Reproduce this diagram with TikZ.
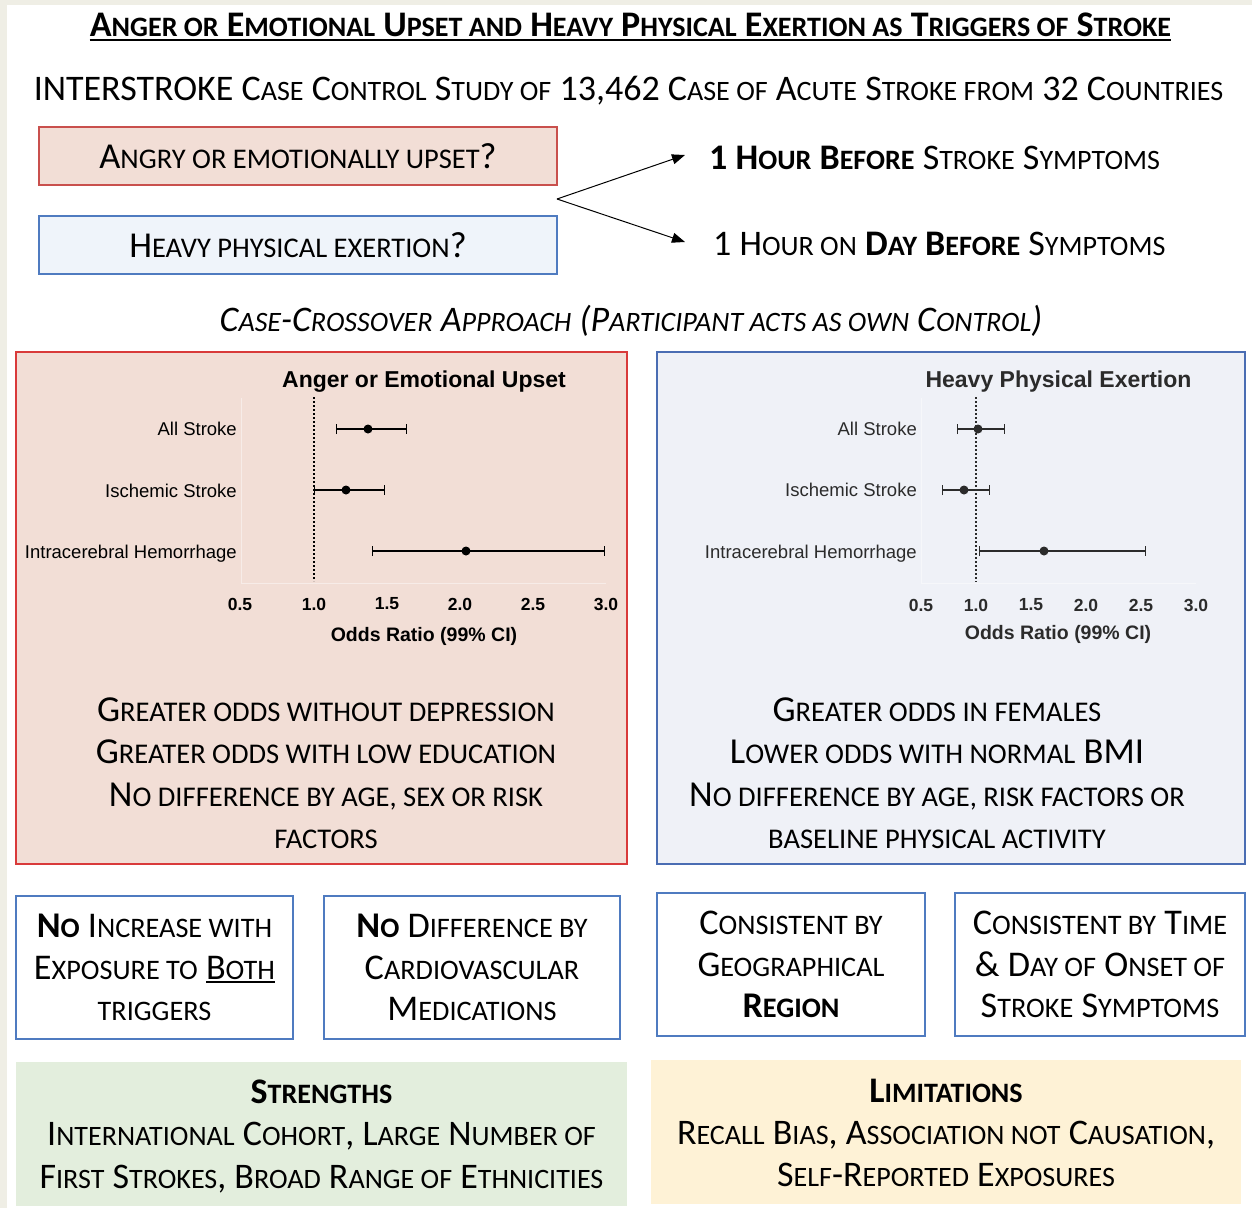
\documentclass[tikz,border=0pt]{standalone}
\usepackage{fontspec}
\setmainfont{Carlito}
\newfontfamily\chartfont{Liberation Sans}
\usetikzlibrary{arrows.meta}
\makeatletter
\newcommand\s[1]{{\fontsize{\fpeval{0.78*\f@size}}{\f@baselineskip}\selectfont #1}}
\makeatother
\newcommand\myul[1]{\setbox0\hbox{#1}\rlap{\rule[-4pt]{\wd0}{2pt}}\box0}
\definecolor{bgbeige}{HTML}{EFEEE5}
\definecolor{boxred}{HTML}{C9504D}
\definecolor{panelred}{HTML}{D93A3A}
\definecolor{redfill}{HTML}{F2DED6}
\definecolor{boxblue}{HTML}{4F7BC0}
\definecolor{panelblue}{HTML}{4A6DB3}
\definecolor{bluefill}{HTML}{EFF4FA}
\definecolor{panelbluefill}{HTML}{EFF1F7}
\definecolor{greenfill}{HTML}{E3EEDD}
\definecolor{yellowfill}{HTML}{FEF2D6}
\definecolor{chartgrey}{HTML}{2B2B2B}
\tikzset{
  txt/.style={inner sep=0pt, align=center},
  qbox/.style={draw, line width=1.3pt, minimum height=58pt, minimum width=518pt, inner sep=0pt},
  panel/.style={draw, line width=1.8pt, minimum width=#1, minimum height=512pt, inner sep=0pt},
  wbox/.style={draw=boxblue, line width=1.3pt, fill=white, minimum height=143pt, inner sep=0pt},
  sbox/.style={minimum height=144pt, inner sep=0pt},
  clabel/.style={inner sep=0pt, anchor=base east, font=\chartfont\fontsize{18.5}{20}\selectfont},
  ctick/.style={inner sep=0pt, font=\chartfont\bfseries\fontsize{17.5}{20}\selectfont},
  ctitle/.style={inner sep=0pt, font=\chartfont\bfseries\fontsize{23}{26}\selectfont},
  caxis/.style={inner sep=0pt, font=\chartfont\bfseries\fontsize{19.5}{22}\selectfont},
  ebar/.style={line width=1.3pt, {Bar[width=10pt,line width=1.3pt]}-{Bar[width=10pt,line width=1.3pt]}},
  refline/.style={line width=1.9pt, dash pattern=on 2pt off 2pt},
  faint/.style={white, opacity=0.45, line width=0.8pt},
  arr/.style={line width=1pt, -{Triangle[length=13pt,width=10pt]}},
}
\begin{document}
\begin{tikzpicture}[x=1pt,y=-1pt]
\useasboundingbox (0,0) rectangle (1252,1208);
\fill[bgbeige] (0,0) rectangle (1252,1208);
\fill[white] (7,5) rectangle (1252,1208);

% title
\node[txt, anchor=base, font=\bfseries\fontsize{36}{40}\selectfont] (title) at (630.5,36)
  {A\s{NGER OR} E\s{MOTIONAL} U\s{PSET AND} H\s{EAVY} P\s{HYSICAL} E\s{XERTION AS} T\s{RIGGERS OF} S\s{TROKE}};
\draw[line width=2pt] ([yshift=-3.5pt]title.base west) -- ([yshift=-3.5pt]title.base east);

\node[txt, anchor=base, font=\fontsize{36}{40}\selectfont] (study) at (628.5,100.5)
  {INTERSTROKE C\s{ASE} C\s{ONTROL} S\s{TUDY OF} 13,462 C\s{ASE OF} A\s{CUTE} S\s{TROKE FROM} 32 C\s{OUNTRIES}};

% question boxes
\node[qbox, draw=boxred, fill=redfill, font=\fontsize{36.5}{40}\selectfont] (angry) at (298,156)
  {A\s{NGRY OR EMOTIONALLY UPSET}?};
\node[qbox, draw=boxblue, fill=bluefill, font=\fontsize{36.5}{40}\selectfont] (heavy) at (298,245)
  {H\s{EAVY PHYSICAL EXERTION}?};

% time windows
\node[txt, anchor=west, font=\fontsize{36}{40}\selectfont] (hour1) at (709,158)
  {\textbf{1 H\s{OUR} B\s{EFORE}} S\s{TROKE} S\s{YMPTOMS}};
\node[txt, anchor=west, font=\fontsize{36}{40}\selectfont] (hour2) at (713,244)
  {1 H\s{OUR ON} \textbf{D\s{AY} B\s{EFORE}} S\s{YMPTOMS}};
\coordinate (fork) at (557,199);
\coordinate (tip1) at (685,155);
\coordinate (tip2) at (685,242);
\draw[arr] (fork) -- (tip1);
\draw[arr] (fork) -- (tip2);

\node[txt, font=\itshape\fontsize{36}{40}\selectfont] (approach) at (631,321)
  {C\s{ASE}-C\s{ROSSOVER} A\s{PPROACH} (P\s{ARTICIPANT ACTS AS OWN} C\s{ONTROL})};

% panels
\node[panel=611pt, draw=panelred, fill=redfill] (lpanel) at (321.5,608) {};
\node[panel=588pt, draw=panelblue, fill=panelbluefill] (rpanel) at (951,608) {};

% left chart
\draw[faint] (241,398) -- (241,583) -- (606,583);
\draw[refline] (314,397) -- (314,581);
\node[ctitle] (ltitle) at (424,382) {Anger or Emotional Upset};
\node[clabel] (la) at (237,435.6) {All Stroke};
\node[clabel] (lb) at (237,497.6) {Ischemic Stroke};
\node[clabel] (lc) at (237,558.6) {Intracerebral Hemorrhage};
\draw[ebar] (336,429) -- (407,429); \fill (368,429) circle (4.5pt);
\draw[ebar] (314,490) -- (385,490); \fill (346,490) circle (4.5pt);
\draw[ebar] (372,551) -- (605,551); \fill (466,551) circle (4.5pt);
\node[ctick] (lt1) at (240,604) {0.5};
\node[ctick] (lt2) at (314,604) {1.0};
\node[ctick] (lt3) at (387,604) {1.5};
\node[ctick] (lt4) at (460,604) {2.0};
\node[ctick] (lt5) at (533,604) {2.5};
\node[ctick] (lt6) at (606,604) {3.0};
\node[caxis] (laxis) at (424,636) {Odds Ratio (99\% CI)};

% right chart
\draw[faint] (921,398) -- (921,583) -- (1196,583);
\draw[refline, chartgrey] (976,397) -- (976,582);
\node[ctitle, text=chartgrey] (rtitle) at (1058.5,382) {Heavy Physical Exertion};
\node[clabel, text=chartgrey] (ra) at (917,435.6) {All Stroke};
\node[clabel, text=chartgrey] (rb) at (917,496.6) {Ischemic Stroke};
\node[clabel, text=chartgrey] (rc) at (917,558.6) {Intracerebral Hemorrhage};
\draw[ebar, chartgrey] (957,429) -- (1005,429); \fill[chartgrey] (978,429) circle (4.5pt);
\draw[ebar, chartgrey] (942,490) -- (990,490); \fill[chartgrey] (964,490) circle (4.5pt);
\draw[ebar, chartgrey] (979,551) -- (1146,551); \fill[chartgrey] (1044,551) circle (4.5pt);
\node[ctick, text=chartgrey] (rt1) at (921,605) {0.5};
\node[ctick, text=chartgrey] (rt2) at (976,605) {1.0};
\node[ctick, text=chartgrey] (rt3) at (1031,605) {1.5};
\node[ctick, text=chartgrey] (rt4) at (1086,605) {2.0};
\node[ctick, text=chartgrey] (rt5) at (1141,605) {2.5};
\node[ctick, text=chartgrey] (rt6) at (1196,605) {3.0};
\node[caxis, text=chartgrey] (raxis) at (1058,634) {Odds Ratio (99\% CI)};

% panel findings
\node[txt, font=\fontsize{36.6}{42.5}\selectfont] (lfind) at (326,773)
  {G\s{REATER ODDS WITHOUT DEPRESSION}\\
   G\s{REATER ODDS WITH LOW EDUCATION}\\
   N\s{O DIFFERENCE BY AGE, SEX OR RISK}\\
   \s{FACTORS}};
\node[txt, font=\fontsize{36.6}{42.5}\selectfont] (rfind) at (937,773)
  {G\s{REATER ODDS IN FEMALES}\\
   L\s{OWER ODDS WITH NORMAL} BMI\\
   N\s{O DIFFERENCE BY AGE, RISK FACTORS OR}\\
   \s{BASELINE PHYSICAL ACTIVITY}};

% bottom boxes
\node[wbox, minimum width=277pt, font=\fontsize{36.2}{41.8}\selectfont, align=center] (b1) at (154.5,967.5)
  {\textbf{N\s{O}} I\s{NCREASE WITH}\\ E\s{XPOSURE TO} \myul{B\s{OTH}}\\ \s{TRIGGERS}};
\node[wbox, minimum width=296pt, font=\fontsize{36.2}{41.8}\selectfont, align=center] (b2) at (472,967.5)
  {\textbf{N\s{O}} D\s{IFFERENCE BY}\\ C\s{ARDIOVASCULAR}\\ M\s{EDICATIONS}};
\node[wbox, minimum width=268pt, font=\fontsize{36.2}{41.8}\selectfont, align=center] (b3) at (791,964.5)
  {C\s{ONSISTENT BY}\\ G\s{EOGRAPHICAL}\\ \textbf{R\s{EGION}}};
\node[wbox, minimum width=290pt, font=\fontsize{36.2}{41.8}\selectfont, align=center] (b4) at (1100,964.5)
  {C\s{ONSISTENT BY} T\s{IME}\\ \& D\s{AY OF} O\s{NSET OF}\\ S\s{TROKE} S\s{YMPTOMS}};

\node[sbox, fill=greenfill, minimum width=611pt] (strength) at (321.5,1134) {};
\node[txt, font=\fontsize{36}{42.5}\selectfont] (strengthtxt) at (321.5,1136)
  {\textbf{S\s{TRENGTHS}}\\ I\s{NTERNATIONAL} C\s{OHORT}, L\s{ARGE} N\s{UMBER OF}\\ F\s{IRST} S\s{TROKES}, B\s{ROAD} R\s{ANGE OF} E\s{THNICITIES}};
\node[sbox, fill=yellowfill, minimum width=590pt] (limit) at (946,1132) {};
\node[txt, font=\fontsize{36}{42}\selectfont] (limittxt) at (946,1133)
  {\textbf{L\s{IMITATIONS}}\\ R\s{ECALL} B\s{IAS}, A\s{SSOCIATION NOT} C\s{AUSATION},\\ S\s{ELF}-R\s{EPORTED} E\s{XPOSURES}};
\end{tikzpicture}
\end{document}
